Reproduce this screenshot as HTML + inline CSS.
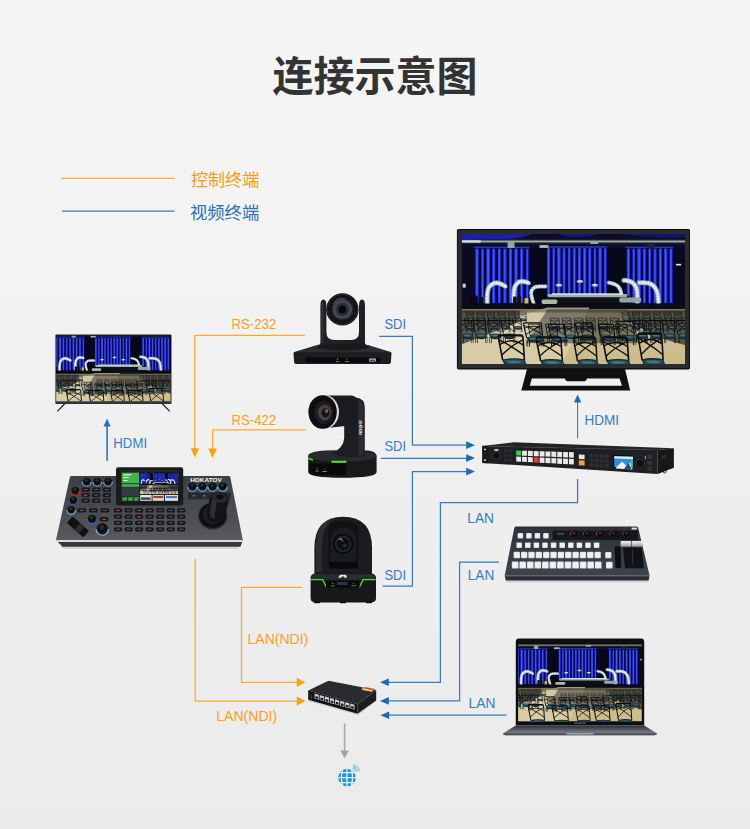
<!DOCTYPE html>
<html lang="zh-CN">
<head>
<meta charset="utf-8">
<title>连接示意图</title>
<style>
html,body{margin:0;padding:0}
body{width:750px;height:829px;overflow:hidden;background:#f0f0f0;font-family:"Liberation Sans",sans-serif}
#stage{position:relative;width:750px;height:829px;background:linear-gradient(180deg,#f5f5f5 0%,#f3f3f3 30%,#eeeeee 65%,#ebebeb 100%)}
svg{position:absolute;left:0;top:0;display:block}
svg text{font-family:"Liberation Sans","Noto Sans CJK SC",sans-serif}
.sr{position:absolute;left:0;top:0;width:1px;height:1px;margin:0;padding:0;overflow:hidden;clip:rect(0 0 0 0);clip-path:inset(50%);white-space:nowrap;opacity:0;font-size:1px}
</style>
</head>
<body>
<div id="stage">
<div class="sr"><h1>连接示意图</h1><p>控制终端</p><p>视频终端</p><p>RS-232</p><p>RS-422</p><p>SDI</p><p>SDI</p><p>SDI</p><p>HDMI</p><p>HDMI</p><p>LAN</p><p>LAN</p><p>LAN</p><p>LAN(NDI)</p><p>LAN(NDI)</p><p>HOKATOV</p></div>
<svg width="750" height="829" viewBox="0 0 750 829">
<defs><linearGradient id="panelg" x1="0" y1="0" x2="0" y2="1"><stop offset="0" stop-color="#2d323a"/><stop offset="1" stop-color="#3d434c"/></linearGradient><linearGradient id="silv" x1="0" y1="0" x2="0" y2="1"><stop offset="0" stop-color="#f4f4f4"/><stop offset=".5" stop-color="#c9c9c9"/><stop offset="1" stop-color="#8f8f8f"/></linearGradient><linearGradient id="lapg" x1="0" y1="0" x2="0" y2="1"><stop offset="0" stop-color="#2c2e38"/><stop offset=".32" stop-color="#4a4c57"/><stop offset=".6" stop-color="#6d6f7a"/><stop offset="1" stop-color="#82848e"/></linearGradient><linearGradient id="ctrlg" x1="0" y1="0" x2="0" y2="1"><stop offset="0" stop-color="#3d3f44"/><stop offset=".55" stop-color="#494b50"/><stop offset="1" stop-color="#585a5f"/></linearGradient><linearGradient id="floorg" x1="0" y1="0" x2="0" y2="1"><stop offset="0" stop-color="#b5a67e"/><stop offset=".4" stop-color="#cfc093"/><stop offset="1" stop-color="#cbbb8a"/></linearGradient><symbol id="chair" viewBox="0 0 30 30" preserveAspectRatio="none"><path d="M5.6 19L1.4 3.2Q1 1.2 3.2 1.2H23.8Q25.8 1.2 26 3.2L27.4 19" stroke="#0b0c0f" stroke-width="1.6" fill="none" stroke-linejoin="round"/><path d="M2 4.4Q14 8.6 27 15.4M25.6 4.4Q14 8.6 4.6 15.4M2.2 8Q14 2.2 25.8 8" stroke="#0b0c0f" stroke-width="1.05" fill="none"/><path d="M5 18.6Q16 16.8 27.6 18.4L30 23Q19 26.6 8 23.4z" fill="#12222b"/><path d="M6.4 19Q16 17.8 27 19L28.8 21.8Q18.4 24.2 8.8 22z" fill="#1f4a58"/><path d="M9.4 19.6Q16 18.8 23.4 19.6L24.8 20.8Q16.6 21.9 11 20.9z" fill="#4f8592" opacity=".7"/><path d="M6.2 22V30M9.4 23.4V30M26.4 23.4V30M29.2 22.6V30" stroke="#0b0c0f" stroke-width="1.3" fill="none"/></symbol><g id="sceneg"><rect width="224" height="131" fill="#07071a"/><rect width="224" height="14" fill="#0b0d2a"/><path d="M0 0h70q-10 5-30 5t-40 1z" fill="#1a24b4" opacity=".9"/><path d="M96 0h40q-6 3-20 3t-20-3z" fill="#141c90" opacity=".8"/><path d="M160 0h64v3q-30 2-64-3z" fill="#111874" opacity=".8"/><rect x="0" y="5.6" width="224" height="3.8" fill="#343d3a"/><rect x="0" y="6.6" width="224" height="1.6" fill="#a3b1aa"/><rect x="0" y="6.2" width="19" height="2.4" fill="#d2dfd4"/><rect x="12" y="12.6" width="56" height="1.6" fill="#2a34c8"/><rect x="84" y="12.2" width="62" height="1.6" fill="#2a34c8"/><rect x="164" y="12.6" width="48" height="1.6" fill="#2a34c8"/><rect x="46" y="8" width="7" height="6" fill="#9aa3a8"/><rect x="78" y="11" width="9" height="3" fill="#aab2b6"/><rect x="129" y="7" width="8" height="3" fill="#9aa3a8"/><rect x="186" y="10" width="7" height="5" fill="#20242c"/><rect x="12.5" y="14.5" width="56.0" height="55.5" fill="#07083a"/><rect x="13.62" y="14.5" width="3.36" height="55.5" fill="#2531ee"/><rect x="14.63" y="15.5" width="1.34" height="53.5" fill="#5a6aff" opacity=".75"/><rect x="19.44" y="14.5" width="2.91" height="55.5" fill="#1e2ad8"/><rect x="20.32" y="15.5" width="1.16" height="53.5" fill="#5a6aff" opacity=".75"/><rect x="24.71" y="14.5" width="3.58" height="55.5" fill="#2b38f6"/><rect x="25.78" y="15.5" width="1.43" height="53.5" fill="#5a6aff" opacity=".75"/><rect x="30.53" y="14.5" width="3.14" height="55.5" fill="#222ee2"/><rect x="31.47" y="15.5" width="1.25" height="53.5" fill="#5a6aff" opacity=".75"/><rect x="36.30" y="14.5" width="2.80" height="55.5" fill="#2531ee"/><rect x="37.14" y="15.5" width="1.12" height="53.5" fill="#5a6aff" opacity=".75"/><rect x="41.62" y="14.5" width="3.36" height="55.5" fill="#1e2ad8"/><rect x="42.63" y="15.5" width="1.34" height="53.5" fill="#5a6aff" opacity=".75"/><rect x="47.44" y="14.5" width="2.91" height="55.5" fill="#2b38f6"/><rect x="48.32" y="15.5" width="1.16" height="53.5" fill="#5a6aff" opacity=".75"/><rect x="52.71" y="14.5" width="3.58" height="55.5" fill="#222ee2"/><rect x="53.78" y="15.5" width="1.43" height="53.5" fill="#5a6aff" opacity=".75"/><rect x="58.53" y="14.5" width="3.14" height="55.5" fill="#2531ee"/><rect x="59.47" y="15.5" width="1.25" height="53.5" fill="#5a6aff" opacity=".75"/><rect x="64.30" y="14.5" width="2.80" height="55.5" fill="#1e2ad8"/><rect x="65.14" y="15.5" width="1.12" height="53.5" fill="#5a6aff" opacity=".75"/><rect x="84.5" y="14" width="62.0" height="50" fill="#07083a"/><rect x="85.53" y="14" width="3.10" height="50" fill="#2531ee"/><rect x="86.46" y="15" width="1.24" height="48" fill="#5a6aff" opacity=".75"/><rect x="90.91" y="14" width="2.69" height="50" fill="#1e2ad8"/><rect x="91.71" y="15" width="1.07" height="48" fill="#5a6aff" opacity=".75"/><rect x="95.76" y="14" width="3.31" height="50" fill="#2b38f6"/><rect x="96.76" y="15" width="1.32" height="48" fill="#5a6aff" opacity=".75"/><rect x="101.14" y="14" width="2.89" height="50" fill="#222ee2"/><rect x="102.00" y="15" width="1.16" height="48" fill="#5a6aff" opacity=".75"/><rect x="106.46" y="14" width="2.58" height="50" fill="#2531ee"/><rect x="107.23" y="15" width="1.03" height="48" fill="#5a6aff" opacity=".75"/><rect x="111.37" y="14" width="3.10" height="50" fill="#1e2ad8"/><rect x="112.30" y="15" width="1.24" height="48" fill="#5a6aff" opacity=".75"/><rect x="116.74" y="14" width="2.69" height="50" fill="#2b38f6"/><rect x="117.55" y="15" width="1.07" height="48" fill="#5a6aff" opacity=".75"/><rect x="121.60" y="14" width="3.31" height="50" fill="#222ee2"/><rect x="122.59" y="15" width="1.32" height="48" fill="#5a6aff" opacity=".75"/><rect x="126.97" y="14" width="2.89" height="50" fill="#2531ee"/><rect x="127.84" y="15" width="1.16" height="48" fill="#5a6aff" opacity=".75"/><rect x="132.29" y="14" width="2.58" height="50" fill="#1e2ad8"/><rect x="133.07" y="15" width="1.03" height="48" fill="#5a6aff" opacity=".75"/><rect x="137.20" y="14" width="3.10" height="50" fill="#2b38f6"/><rect x="138.13" y="15" width="1.24" height="48" fill="#5a6aff" opacity=".75"/><rect x="142.57" y="14" width="2.69" height="50" fill="#222ee2"/><rect x="143.38" y="15" width="1.07" height="48" fill="#5a6aff" opacity=".75"/><rect x="164.5" y="14.5" width="48.0" height="55.5" fill="#07083a"/><rect x="165.57" y="14.5" width="3.20" height="55.5" fill="#2531ee"/><rect x="166.53" y="15.5" width="1.28" height="53.5" fill="#5a6aff" opacity=".75"/><rect x="171.11" y="14.5" width="2.77" height="55.5" fill="#1e2ad8"/><rect x="171.95" y="15.5" width="1.11" height="53.5" fill="#5a6aff" opacity=".75"/><rect x="176.13" y="14.5" width="3.41" height="55.5" fill="#2b38f6"/><rect x="177.15" y="15.5" width="1.37" height="53.5" fill="#5a6aff" opacity=".75"/><rect x="181.67" y="14.5" width="2.99" height="55.5" fill="#222ee2"/><rect x="182.57" y="15.5" width="1.19" height="53.5" fill="#5a6aff" opacity=".75"/><rect x="187.17" y="14.5" width="2.67" height="55.5" fill="#2531ee"/><rect x="187.97" y="15.5" width="1.07" height="53.5" fill="#5a6aff" opacity=".75"/><rect x="192.23" y="14.5" width="3.20" height="55.5" fill="#1e2ad8"/><rect x="193.19" y="15.5" width="1.28" height="53.5" fill="#5a6aff" opacity=".75"/><rect x="197.78" y="14.5" width="2.77" height="55.5" fill="#2b38f6"/><rect x="198.61" y="15.5" width="1.11" height="53.5" fill="#5a6aff" opacity=".75"/><rect x="202.79" y="14.5" width="3.41" height="55.5" fill="#222ee2"/><rect x="203.82" y="15.5" width="1.37" height="53.5" fill="#5a6aff" opacity=".75"/><rect x="208.34" y="14.5" width="2.99" height="55.5" fill="#2531ee"/><rect x="209.24" y="15.5" width="1.19" height="53.5" fill="#5a6aff" opacity=".75"/><rect x="0" y="14" width="12" height="60" fill="#0a0b22"/><rect x="213" y="14" width="11" height="60" fill="#090a1e"/><rect x="215" y="30" width="5" height="1.6" fill="#e8ecf5"/><rect x="1" y="50" width="3" height="4" fill="#c9d2e2"/><ellipse cx="97.5" cy="51.5" rx="3.3" ry="1.7" fill="#8ea6bc"/><ellipse cx="97.5" cy="51.2" rx="2" ry="0.9" fill="#e6eef2"/><ellipse cx="118.5" cy="47.8" rx="3.3" ry="1.7" fill="#8ea6bc"/><ellipse cx="118.5" cy="47.5" rx="2" ry="0.9" fill="#e6eef2"/><ellipse cx="133.5" cy="51.5" rx="3.3" ry="1.7" fill="#8ea6bc"/><ellipse cx="133.5" cy="51.2" rx="2" ry="0.9" fill="#e6eef2"/><path d="M25.6 71Q25 56 28.0 52.8Q31 49.5 34.5 49.2Q38 49 45.0 53.4" stroke="#8ea6b4" stroke-width="5.2" fill="none" stroke-linecap="round" stroke-dasharray="0.1 2.6" opacity=".9"/><path d="M25.6 71Q25 56 28.0 52.8Q31 49.5 34.5 49.2Q38 49 45.0 53.4" stroke="#c3d4de" stroke-width="3.85" fill="none" stroke-linecap="round" stroke-dasharray="0.1 2.4" stroke-dashoffset="1"/><path d="M25.6 71Q25 56 28.0 52.8Q31 49.5 34.5 49.2Q38 49 45.0 53.4" stroke="#f4f8fa" stroke-width="2.18" fill="none" stroke-linecap="round" stroke-dasharray="0.1 2.9"/><path d="M52.4 68Q51.6 56 53.8 52.2Q56 48.4 59.0 47.8Q62 47.2 67.4 49.4" stroke="#8ea6b4" stroke-width="5.2" fill="none" stroke-linecap="round" stroke-dasharray="0.1 2.6" opacity=".9"/><path d="M52.4 68Q51.6 56 53.8 52.2Q56 48.4 59.0 47.8Q62 47.2 67.4 49.4" stroke="#c3d4de" stroke-width="3.85" fill="none" stroke-linecap="round" stroke-dasharray="0.1 2.4" stroke-dashoffset="1"/><path d="M52.4 68Q51.6 56 53.8 52.2Q56 48.4 59.0 47.8Q62 47.2 67.4 49.4" stroke="#f4f8fa" stroke-width="2.18" fill="none" stroke-linecap="round" stroke-dasharray="0.1 2.9"/><path d="M72.6 71Q68.4 60 70.2 56.8Q72 53.6 75.0 53.1Q78 52.6 84.4 52.8" stroke="#8ea6b4" stroke-width="4.4" fill="none" stroke-linecap="round" stroke-dasharray="0.1 2.6" opacity=".9"/><path d="M72.6 71Q68.4 60 70.2 56.8Q72 53.6 75.0 53.1Q78 52.6 84.4 52.8" stroke="#c3d4de" stroke-width="3.26" fill="none" stroke-linecap="round" stroke-dasharray="0.1 2.4" stroke-dashoffset="1"/><path d="M72.6 71Q68.4 60 70.2 56.8Q72 53.6 75.0 53.1Q78 52.6 84.4 52.8" stroke="#f4f8fa" stroke-width="1.85" fill="none" stroke-linecap="round" stroke-dasharray="0.1 2.9"/><path d="M147.5 49Q154 50 156.5 52.5Q159 55 159.7 58.5Q160.4 62 160.0 70.0" stroke="#8ea6b4" stroke-width="4.4" fill="none" stroke-linecap="round" stroke-dasharray="0.1 2.6" opacity=".9"/><path d="M147.5 49Q154 50 156.5 52.5Q159 55 159.7 58.5Q160.4 62 160.0 70.0" stroke="#c3d4de" stroke-width="3.26" fill="none" stroke-linecap="round" stroke-dasharray="0.1 2.4" stroke-dashoffset="1"/><path d="M147.5 49Q154 50 156.5 52.5Q159 55 159.7 58.5Q160.4 62 160.0 70.0" stroke="#f4f8fa" stroke-width="1.85" fill="none" stroke-linecap="round" stroke-dasharray="0.1 2.9"/><path d="M162.6 46.6Q169 47 171.8 49.5Q174.6 52 175.5 56.0Q176.4 60 176.0 70.0" stroke="#8ea6b4" stroke-width="5.2" fill="none" stroke-linecap="round" stroke-dasharray="0.1 2.6" opacity=".9"/><path d="M162.6 46.6Q169 47 171.8 49.5Q174.6 52 175.5 56.0Q176.4 60 176.0 70.0" stroke="#c3d4de" stroke-width="3.85" fill="none" stroke-linecap="round" stroke-dasharray="0.1 2.4" stroke-dashoffset="1"/><path d="M162.6 46.6Q169 47 171.8 49.5Q174.6 52 175.5 56.0Q176.4 60 176.0 70.0" stroke="#f4f8fa" stroke-width="2.18" fill="none" stroke-linecap="round" stroke-dasharray="0.1 2.9"/><path d="M178 49Q186 48.6 189.5 50.3Q193 52 195.0 56.0Q197 60 197.4 71.0" stroke="#8ea6b4" stroke-width="5.2" fill="none" stroke-linecap="round" stroke-dasharray="0.1 2.6" opacity=".9"/><path d="M178 49Q186 48.6 189.5 50.3Q193 52 195.0 56.0Q197 60 197.4 71.0" stroke="#c3d4de" stroke-width="3.85" fill="none" stroke-linecap="round" stroke-dasharray="0.1 2.4" stroke-dashoffset="1"/><path d="M178 49Q186 48.6 189.5 50.3Q193 52 195.0 56.0Q197 60 197.4 71.0" stroke="#f4f8fa" stroke-width="2.18" fill="none" stroke-linecap="round" stroke-dasharray="0.1 2.9"/><rect x="8" y="63" width="3" height="11" rx="1.2" fill="#0a0a0d"/><rect x="13" y="62" width="3.2" height="12" rx="1.2" fill="#0d0d11"/><rect x="18.5" y="63.5" width="3" height="11" rx="1.2" fill="#0a0a0d"/><rect x="51.5" y="63" width="3.6" height="15" rx="1.4" fill="#0b0b0e"/><rect x="55.8" y="62" width="3.6" height="17" rx="1.4" fill="#0d0d10"/><rect x="63" y="64.4" width="3.8" height="8.4" rx="1.2" fill="#e6bc1c"/><rect x="63.8" y="72" width="2.4" height="6" fill="#15151a"/><rect x="84" y="62" width="84" height="13" fill="#0d1016"/><rect x="0" y="70" width="224" height="6" fill="#0b0c14"/><rect x="86" y="60.5" width="80" height="3.2" rx="1.5" fill="#9fb0a8"/><rect x="90" y="59.6" width="72" height="1.6" rx=".8" fill="#e4ece8" opacity=".9"/><rect x="80" y="66" width="16" height="4.5" rx="2" fill="#a9b8b0"/><rect x="158" y="64" width="22" height="5" rx="2" fill="#96a79f"/><rect x="0" y="75.5" width="224" height="55.5" fill="url(#floorg)"/><path d="M0 131L0 100L86 74H128L100 131z" fill="#ddd2b0" opacity=".7"/><path d="M0 75.5H224V79H0z" fill="#2a2c36" opacity=".4"/><path d="M0 77H58V88L27 101L0 111z" fill="#14161b" opacity=".62"/><path d="M166 77H224V112L196 104L168 88z" fill="#14161b" opacity=".62"/><path d="M86 76H166L174 110H64z" fill="#181a20" opacity=".45"/><use href="#chair" x="4.0" y="78.0" width="9.0" height="12.0" opacity="1"/><use href="#chair" x="14.5" y="78.0" width="9.0" height="12.0" opacity="1"/><use href="#chair" x="25.0" y="78.0" width="9.0" height="12.0" opacity="1"/><use href="#chair" x="35.5" y="78.0" width="9.0" height="12.0" opacity="1"/><use href="#chair" x="46.0" y="78.0" width="9.0" height="12.0" opacity="1"/><use href="#chair" x="56.5" y="78.0" width="9.0" height="12.0" opacity="1"/><use href="#chair" x="160.0" y="78.0" width="9.0" height="12.0" opacity="1"/><use href="#chair" x="170.5" y="78.0" width="9.0" height="12.0" opacity="1"/><use href="#chair" x="181.0" y="78.0" width="9.0" height="12.0" opacity="1"/><use href="#chair" x="191.5" y="78.0" width="9.0" height="12.0" opacity="1"/><use href="#chair" x="202.0" y="78.0" width="9.0" height="12.0" opacity="1"/><use href="#chair" x="212.5" y="78.0" width="9.0" height="12.0" opacity="1"/><use href="#chair" x="2.0" y="84.0" width="11.0" height="15.0" opacity="1"/><use href="#chair" x="14.0" y="84.0" width="11.0" height="15.0" opacity="1"/><use href="#chair" x="26.0" y="84.0" width="11.0" height="15.0" opacity="1"/><use href="#chair" x="38.0" y="84.0" width="11.0" height="15.0" opacity="1"/><use href="#chair" x="50.0" y="84.0" width="11.0" height="15.0" opacity="1"/><use href="#chair" x="88.0" y="84.0" width="11.0" height="15.0" opacity="1"/><use href="#chair" x="100.0" y="84.0" width="11.0" height="15.0" opacity="1"/><use href="#chair" x="112.0" y="84.0" width="11.0" height="15.0" opacity="1"/><use href="#chair" x="124.0" y="84.0" width="11.0" height="15.0" opacity="1"/><use href="#chair" x="136.0" y="84.0" width="11.0" height="15.0" opacity="1"/><use href="#chair" x="148.0" y="84.0" width="11.0" height="15.0" opacity="1"/><use href="#chair" x="168.0" y="84.0" width="11.0" height="15.0" opacity="1"/><use href="#chair" x="180.0" y="84.0" width="11.0" height="15.0" opacity="1"/><use href="#chair" x="192.0" y="84.0" width="11.0" height="15.0" opacity="1"/><use href="#chair" x="204.0" y="84.0" width="11.0" height="15.0" opacity="1"/><use href="#chair" x="216.0" y="84.0" width="11.0" height="15.0" opacity="1"/><use href="#chair" x="66.0" y="90.0" width="14.0" height="19.0" opacity="1"/><use href="#chair" x="83.5" y="90.0" width="14.0" height="19.0" opacity="1"/><use href="#chair" x="101.0" y="90.0" width="14.0" height="19.0" opacity="1"/><use href="#chair" x="118.5" y="90.0" width="14.0" height="19.0" opacity="1"/><use href="#chair" x="136.0" y="90.0" width="14.0" height="19.0" opacity="1"/><use href="#chair" x="153.5" y="90.0" width="14.0" height="19.0" opacity="1"/><use href="#chair" x="171.0" y="90.0" width="14.0" height="19.0" opacity="1"/><use href="#chair" x="-3.0" y="86.0" width="15.0" height="24.0" opacity="1"/><use href="#chair" x="11.0" y="86.0" width="15.0" height="24.0" opacity="1"/><use href="#chair" x="25.0" y="86.0" width="15.0" height="24.0" opacity="1"/><use href="#chair" x="39.0" y="86.0" width="15.0" height="24.0" opacity="1"/><use href="#chair" x="172.0" y="86.0" width="15.0" height="24.0" opacity="1"/><use href="#chair" x="186.0" y="86.0" width="15.0" height="24.0" opacity="1"/><use href="#chair" x="200.0" y="86.0" width="15.0" height="24.0" opacity="1"/><use href="#chair" x="214.0" y="86.0" width="15.0" height="24.0" opacity="1"/><use href="#chair" x="61.0" y="88.5" width="22.0" height="25.0" opacity="1"/><use href="#chair" x="86.0" y="90.0" width="20.0" height="23.0" opacity="1"/><use href="#chair" x="113.0" y="88.5" width="21.0" height="23.0" opacity="1"/><use href="#chair" x="136.0" y="90.0" width="19.0" height="22.0" opacity="1"/><use href="#chair" x="154.5" y="87.0" width="20.0" height="25.0" opacity="1"/><use href="#chair" x="35.5" y="100.5" width="30.0" height="42.0" opacity="1"/><use href="#chair" x="73.5" y="102.5" width="30.0" height="40.0" opacity="1"/><use href="#chair" x="111.0" y="102.5" width="27.0" height="40.0" opacity="1"/><use href="#chair" x="140.0" y="102.5" width="30.0" height="40.0" opacity="1"/><use href="#chair" x="175.5" y="98.5" width="29.0" height="45.0" opacity="1"/></g><symbol id="scene" viewBox="0 0 224 131" preserveAspectRatio="none"><use href="#sceneg"/></symbol><symbol id="scene2" viewBox="20 11 193.7 111.4" preserveAspectRatio="none"><use href="#sceneg"/></symbol><symbol id="scene3" viewBox="21 6.4 197 122" preserveAspectRatio="none"><use href="#sceneg"/></symbol></defs>
<text x="375" y="91.2" font-size="41" font-weight="bold" fill="#333333" text-anchor="middle">连接示意图</text>
<path d="M61 178.4H174.5" stroke="#fbaa2c" stroke-width="1.2" fill="none"/>
<path d="M62 211.2H174.5" stroke="#3b7bbd" stroke-width="1.2" fill="none"/>
<text x="191" y="186.3" font-size="17" fill="#f59d12" textLength="68.2" lengthAdjust="spacingAndGlyphs">控制终端</text>
<text x="190" y="218.9" font-size="17.3" fill="#2e6fb0" textLength="69.2" lengthAdjust="spacingAndGlyphs">视频终端</text>
<path d="M304.8 335.3H194.8V449" stroke="#fbaa2c" stroke-width="1.25" fill="none" stroke-linejoin="miter"/>
<polygon points="194.9,457.4 190.70000000000002,448.2 199.1,448.2" fill="#ff9f0e"/>
<path d="M305.9 429.9H212.6V449" stroke="#fbaa2c" stroke-width="1.25" fill="none" stroke-linejoin="miter"/>
<polygon points="212.5,458 208.2,448.4 216.8,448.4" fill="#ff9f0e"/>
<path d="M302.3 587.3H241.5V682.3H298" stroke="#fbaa2c" stroke-width="1.25" fill="none" stroke-linejoin="miter"/>
<polygon points="305.4,682.3 296.79999999999995,677.6999999999999 296.79999999999995,686.9" fill="#ff9f0e"/>
<path d="M195.2 558.8V701.1H298" stroke="#fbaa2c" stroke-width="1.25" fill="none" stroke-linejoin="miter"/>
<polygon points="305.4,701.1 296.79999999999995,696.5 296.79999999999995,705.7" fill="#ff9f0e"/>
<path d="M379.2 336.3H412.4V445.2H468" stroke="#3b7bbd" stroke-width="1.25" fill="none" stroke-linejoin="miter"/>
<polygon points="475,445.2 466.2,441.3 466.2,449.09999999999997" fill="#1f69b3"/>
<path d="M380.8 458.3H468" stroke="#3b7bbd" stroke-width="1.25" fill="none" stroke-linejoin="miter"/>
<polygon points="475,458.1 466.2,454.20000000000005 466.2,462.0" fill="#1f69b3"/>
<path d="M382.6 586.2H412.4V471.6H468" stroke="#3b7bbd" stroke-width="1.25" fill="none" stroke-linejoin="miter"/>
<polygon points="475,471.6 466.2,467.70000000000005 466.2,475.5" fill="#1f69b3"/>
<path d="M107.1 460.8V426" stroke="#2f7dbd" stroke-width="1.7" fill="none" stroke-linejoin="miter"/>
<polygon points="107.1,418.6 103.5,426.40000000000003 110.69999999999999,426.40000000000003" fill="#2574b8"/>
<path d="M577.6 438.6V402" stroke="#3b7bbd" stroke-width="1.1" fill="none" stroke-linejoin="miter"/>
<polygon points="577.6,394.6 573.9,402.40000000000003 581.3000000000001,402.40000000000003" fill="#1f69b3"/>
<path d="M577.6 479V502.7H440.4V682.3H388" stroke="#3b7bbd" stroke-width="1.25" fill="none" stroke-linejoin="miter"/>
<polygon points="380,682.3 388.8,678.5 388.8,686.0999999999999" fill="#1f69b3"/>
<path d="M499 562.1H459.6V700.9H388" stroke="#3b7bbd" stroke-width="1.25" fill="none" stroke-linejoin="miter"/>
<polygon points="380,700.9 388.8,697.1 388.8,704.6999999999999" fill="#1f69b3"/>
<path d="M506.6 715.2H388" stroke="#3b7bbd" stroke-width="1.25" fill="none" stroke-linejoin="miter"/>
<polygon points="380.4,715.2 389.2,711.4000000000001 389.2,719.0" fill="#1f69b3"/>
<path d="M344.6 723.4V751" stroke="#a8a8a8" stroke-width="1.6" fill="none" stroke-linejoin="miter"/>
<polygon points="344.6,758.4 340.40000000000003,750.4 348.8,750.4" fill="#a3a3a3"/>
<text x="231.4" y="328.6" font-size="15" fill="#f9a11b" textLength="44.8" lengthAdjust="spacingAndGlyphs">RS-232</text>
<text x="231.4" y="424.7" font-size="15.5" fill="#f9a11b" textLength="44.8" lengthAdjust="spacingAndGlyphs">RS-422</text>
<text x="384.4" y="329.2" font-size="15.5" fill="#3b7bbd" textLength="21.6" lengthAdjust="spacingAndGlyphs">SDI</text>
<text x="384.4" y="451" font-size="15.5" fill="#3b7bbd" textLength="21.6" lengthAdjust="spacingAndGlyphs">SDI</text>
<text x="384.4" y="580" font-size="15.5" fill="#3b7bbd" textLength="21.6" lengthAdjust="spacingAndGlyphs">SDI</text>
<text x="113.3" y="447.6" font-size="14.2" fill="#3580bf" textLength="33.8" lengthAdjust="spacingAndGlyphs">HDMI</text>
<text x="584.4" y="424.7" font-size="14.2" fill="#3b7bbd" textLength="34.7" lengthAdjust="spacingAndGlyphs">HDMI</text>
<text x="467.3" y="523.3" font-size="15.5" fill="#3b7bbd" textLength="26.7" lengthAdjust="spacingAndGlyphs">LAN</text>
<text x="467.8" y="580.4" font-size="15.5" fill="#3b7bbd" textLength="26.4" lengthAdjust="spacingAndGlyphs">LAN</text>
<text x="468.6" y="708.4" font-size="15.5" fill="#3b7bbd" textLength="26.8" lengthAdjust="spacingAndGlyphs">LAN</text>
<text x="247.5" y="643.6" font-size="15.3" fill="#f9a11b" textLength="60.8" lengthAdjust="spacingAndGlyphs">LAN(NDI)</text>
<text x="216.2" y="720.5" font-size="15.2" fill="#f9a11b" textLength="61" lengthAdjust="spacingAndGlyphs">LAN(NDI)</text>
<g id="monitor">
<path d="M527 369H625L630.2 390.6H521.3z" fill="#101012"/>
<path d="M531.8 378.4H564.6Q565.6 381.2 568.4 381.2H583.6Q586.2 381.2 587.2 378.4H619.6L622 385.8H529.8z" fill="#f0f0f0"/>
<rect x="456.9" y="229" width="233.1" height="140.4" rx="1.6" fill="#0c0c0e"/>
<rect x="457.7" y="229.9" width="231.4" height="138.4" rx="1.2" fill="#2a2b2e"/>
<use href="#scene" x="461.7" y="234.1" width="223.4" height="129.9"/>
</g>
<g id="tv">
<path d="M65 403.5L57.4 411.3M162 403.5L169.8 411.3" stroke="#1c1c1e" stroke-width="1.1" fill="none"/>
<rect x="55.4" y="334.6" width="116.1" height="69.5" rx=".8" fill="#2a2b30"/>
<use href="#scene2" x="56.3" y="335.8" width="114.3" height="65.7"/>
<rect x="56" y="401.5" width="115" height="2.2" fill="#34363c"/>
</g>
<g id="controller">
<path d="M60 546.5H240L237 549H64z" fill="#bdbdbd" opacity=".6"/>
<path d="M56 540H242.8L240.5 546.8H62.5z" fill="#35373b"/>
<path d="M56 539.6H242.8V542H56z" fill="#d9dadc"/>
<path d="M71.6 476H228.6Q230 476 230.3 477.2L242.8 540H56L69.9 477.2Q70.3 476 71.6 476z" fill="url(#ctrlg)"/>
<rect x="188" y="492.6" width="42.5" height="6.6" fill="#27292d"/>
<rect x="192.5" y="495.2" width="2.6" height="1.2" fill="#3f8fe0"/><rect x="203" y="495.2" width="2.6" height="1.2" fill="#3f8fe0"/>
<text x="190.2" y="482.24" font-size="5.5" font-weight="bold" fill="#f4f4f4" textLength="31.6" lengthAdjust="spacingAndGlyphs">HOKATOV</text>
<circle cx="86.7" cy="482.2" r="4.3" fill="#1b1c1f"/><path d="M82.4 481.9A4.3 4.3 0 0 0 91.0 481.9" fill="none" stroke="#7db8f2" stroke-width="1.1"/><circle cx="86.7" cy="481.2" r="3.10" fill="#0c0c0e"/><circle cx="86.3" cy="480.3" r="1.72" fill="#2b2c30"/>
<circle cx="97.3" cy="482.2" r="4.3" fill="#1b1c1f"/><path d="M93.0 481.9A4.3 4.3 0 0 0 101.6 481.9" fill="none" stroke="#7db8f2" stroke-width="1.1"/><circle cx="97.3" cy="481.2" r="3.10" fill="#0c0c0e"/><circle cx="96.89999999999999" cy="480.3" r="1.72" fill="#2b2c30"/>
<circle cx="108" cy="482.2" r="4.3" fill="#1b1c1f"/><path d="M103.7 481.9A4.3 4.3 0 0 0 112.3 481.9" fill="none" stroke="#7db8f2" stroke-width="1.1"/><circle cx="108" cy="481.2" r="3.10" fill="#0c0c0e"/><circle cx="107.6" cy="480.3" r="1.72" fill="#2b2c30"/>
<circle cx="75.3" cy="491.3" r="4.3" fill="#1b1c1f"/><path d="M71.0 491.0A4.3 4.3 0 0 0 79.6 491.0" fill="none" stroke="#e0262c" stroke-width="1.1"/><circle cx="75.3" cy="490.3" r="3.10" fill="#0c0c0e"/><circle cx="74.89999999999999" cy="489.40000000000003" r="1.72" fill="#2b2c30"/>
<circle cx="73.3" cy="500.7" r="4.3" fill="#1b1c1f"/><path d="M69.0 500.4A4.3 4.3 0 0 0 77.6 500.4" fill="none" stroke="#2f62e8" stroke-width="1.1"/><circle cx="73.3" cy="499.7" r="3.10" fill="#0c0c0e"/><circle cx="72.89999999999999" cy="498.8" r="1.72" fill="#2b2c30"/>
<circle cx="71.2" cy="510.4" r="4.3" fill="#1b1c1f"/><path d="M66.9 510.09999999999997A4.3 4.3 0 0 0 75.5 510.09999999999997" fill="none" stroke="#86bdf5" stroke-width="1.1"/><circle cx="71.2" cy="509.4" r="3.10" fill="#0c0c0e"/><circle cx="70.8" cy="508.5" r="1.72" fill="#2b2c30"/>
<circle cx="92" cy="519.3" r="4.6" fill="#1b1c1f"/><path d="M87.4 519.0A4.6 4.6 0 0 0 96.6 519.0" fill="none" stroke="#2f62e8" stroke-width="1.1"/><circle cx="92" cy="518.3" r="3.31" fill="#0c0c0e"/><circle cx="91.6" cy="517.4" r="1.84" fill="#2b2c30"/>
<circle cx="102.3" cy="529.3" r="6.2" fill="#1b1c1f"/><path d="M96.1 529.0A6.2 6.2 0 0 0 108.5 529.0" fill="none" stroke="#86bdf5" stroke-width="1.1"/><circle cx="102.3" cy="528.3" r="4.46" fill="#0c0c0e"/><circle cx="101.89999999999999" cy="527.4" r="2.48" fill="#2b2c30"/>
<circle cx="192.4" cy="487" r="4.6" fill="#1b1c1f"/><path d="M187.8 486.7A4.6 4.6 0 0 0 197.0 486.7" fill="none" stroke="#7db8f2" stroke-width="1.1"/><circle cx="192.4" cy="486.0" r="3.31" fill="#0c0c0e"/><circle cx="192.0" cy="485.1" r="1.84" fill="#2b2c30"/>
<circle cx="202.4" cy="487" r="4.6" fill="#1b1c1f"/><path d="M197.8 486.7A4.6 4.6 0 0 0 207.0 486.7" fill="none" stroke="#7db8f2" stroke-width="1.1"/><circle cx="202.4" cy="486.0" r="3.31" fill="#0c0c0e"/><circle cx="202.0" cy="485.1" r="1.84" fill="#2b2c30"/>
<circle cx="212.5" cy="487" r="4.6" fill="#1b1c1f"/><path d="M207.9 486.7A4.6 4.6 0 0 0 217.1 486.7" fill="none" stroke="#7db8f2" stroke-width="1.1"/><circle cx="212.5" cy="486.0" r="3.31" fill="#0c0c0e"/><circle cx="212.1" cy="485.1" r="1.84" fill="#2b2c30"/>
<circle cx="222.7" cy="487" r="4.6" fill="#1b1c1f"/><path d="M218.1 486.7A4.6 4.6 0 0 0 227.29999999999998 486.7" fill="none" stroke="#7db8f2" stroke-width="1.1"/><circle cx="222.7" cy="486.0" r="3.31" fill="#0c0c0e"/><circle cx="222.29999999999998" cy="485.1" r="1.84" fill="#2b2c30"/>
<rect x="81.60" y="487.50" width="8.2" height="4.2" rx="1.6" fill="#17181b"/><rect x="83.70" y="489.10" width="4" height="1" fill="#9a9da3" opacity=".55"/>
<rect x="92.10" y="487.50" width="8.2" height="4.2" rx="1.6" fill="#17181b"/><rect x="94.20" y="489.10" width="4" height="1" fill="#9a9da3" opacity=".55"/>
<rect x="102.70" y="487.50" width="8.2" height="4.2" rx="1.6" fill="#17181b"/><rect x="104.80" y="489.10" width="4" height="1" fill="#9a9da3" opacity=".55"/>
<rect x="81.60" y="493.00" width="8.2" height="4.2" rx="1.6" fill="#17181b"/><rect x="83.70" y="494.60" width="4" height="1" fill="#9a9da3" opacity=".55"/>
<rect x="92.10" y="493.00" width="8.2" height="4.2" rx="1.6" fill="#17181b"/><rect x="94.20" y="494.60" width="4" height="1" fill="#9a9da3" opacity=".55"/>
<rect x="102.70" y="493.00" width="8.2" height="4.2" rx="1.6" fill="#17181b"/><rect x="104.80" y="494.60" width="4" height="1" fill="#9a9da3" opacity=".55"/>
<rect x="81.60" y="498.60" width="8.2" height="4.2" rx="1.6" fill="#17181b"/><rect x="83.70" y="500.20" width="4" height="1" fill="#9a9da3" opacity=".55"/>
<rect x="92.10" y="498.60" width="8.2" height="4.2" rx="1.6" fill="#17181b"/><rect x="94.20" y="500.20" width="4" height="1" fill="#9a9da3" opacity=".55"/>
<rect x="102.70" y="498.60" width="8.2" height="4.2" rx="1.6" fill="#17181b"/><rect x="104.80" y="500.20" width="4" height="1" fill="#9a9da3" opacity=".55"/>
<path d="M83.4 496.3L84.9 493.8L86.4 496.3z" fill="#e0262c"/><rect x="84" y="489" width="3.4" height="1" fill="#e0262c"/>
<rect x="77.50" y="508.20" width="8.6" height="4.4" rx="1.6" fill="#17181b"/><rect x="79.80" y="509.90" width="4" height="1" fill="#9a9da3" opacity=".55"/>
<rect x="89.10" y="508.20" width="8.6" height="4.4" rx="1.6" fill="#17181b"/><rect x="91.40" y="509.90" width="4" height="1" fill="#9a9da3" opacity=".55"/>
<rect x="100.50" y="508.20" width="8.6" height="4.4" rx="1.6" fill="#17181b"/><rect x="102.80" y="509.90" width="4" height="1" fill="#9a9da3" opacity=".55"/>
<rect x="99.80" y="517.10" width="8.4" height="4.4" rx="1.6" fill="#17181b"/><rect x="102.00" y="518.80" width="4" height="1" fill="#9a9da3" opacity=".55"/>
<rect x="102.2" y="518.8" width="3.6" height="1" fill="#e0262c"/>
<rect x="113.90" y="508.25" width="8.2" height="4.3" rx="1.6" fill="#17181b"/><rect x="116.00" y="509.90" width="4" height="1" fill="#9a9da3" opacity=".55"/>
<rect x="124.45" y="508.25" width="8.2" height="4.3" rx="1.6" fill="#17181b"/><rect x="126.55" y="509.90" width="4" height="1" fill="#9a9da3" opacity=".55"/>
<rect x="135.00" y="508.25" width="8.2" height="4.3" rx="1.6" fill="#17181b"/><rect x="137.10" y="509.90" width="4" height="1" fill="#9a9da3" opacity=".55"/>
<rect x="145.55" y="508.25" width="8.2" height="4.3" rx="1.6" fill="#17181b"/><rect x="147.65" y="509.90" width="4" height="1" fill="#9a9da3" opacity=".55"/>
<rect x="156.10" y="508.25" width="8.2" height="4.3" rx="1.6" fill="#17181b"/><rect x="158.20" y="509.90" width="4" height="1" fill="#9a9da3" opacity=".55"/>
<rect x="166.65" y="508.25" width="8.2" height="4.3" rx="1.6" fill="#17181b"/><rect x="168.75" y="509.90" width="4" height="1" fill="#9a9da3" opacity=".55"/>
<rect x="177.20" y="508.25" width="8.2" height="4.3" rx="1.6" fill="#17181b"/><rect x="179.30" y="509.90" width="4" height="1" fill="#9a9da3" opacity=".55"/>
<rect x="113.90" y="514.55" width="8.2" height="4.3" rx="1.6" fill="#17181b"/><rect x="116.00" y="516.20" width="4" height="1" fill="#9a9da3" opacity=".55"/>
<rect x="124.45" y="514.55" width="8.2" height="4.3" rx="1.6" fill="#17181b"/><rect x="126.55" y="516.20" width="4" height="1" fill="#9a9da3" opacity=".55"/>
<rect x="135.00" y="514.55" width="8.2" height="4.3" rx="1.6" fill="#17181b"/><rect x="137.10" y="516.20" width="4" height="1" fill="#9a9da3" opacity=".55"/>
<rect x="145.55" y="514.55" width="8.2" height="4.3" rx="1.6" fill="#17181b"/><rect x="147.65" y="516.20" width="4" height="1" fill="#9a9da3" opacity=".55"/>
<rect x="156.10" y="514.55" width="8.2" height="4.3" rx="1.6" fill="#17181b"/><rect x="158.20" y="516.20" width="4" height="1" fill="#9a9da3" opacity=".55"/>
<rect x="166.65" y="514.55" width="8.2" height="4.3" rx="1.6" fill="#17181b"/><rect x="168.75" y="516.20" width="4" height="1" fill="#9a9da3" opacity=".55"/>
<rect x="177.20" y="514.55" width="8.2" height="4.3" rx="1.6" fill="#17181b"/><rect x="179.30" y="516.20" width="4" height="1" fill="#9a9da3" opacity=".55"/>
<rect x="113.90" y="520.65" width="8.2" height="4.3" rx="1.6" fill="#17181b"/><rect x="116.00" y="522.30" width="4" height="1" fill="#9a9da3" opacity=".55"/>
<rect x="124.45" y="520.65" width="8.2" height="4.3" rx="1.6" fill="#17181b"/><rect x="126.55" y="522.30" width="4" height="1" fill="#9a9da3" opacity=".55"/>
<rect x="135.00" y="520.65" width="8.2" height="4.3" rx="1.6" fill="#17181b"/><rect x="137.10" y="522.30" width="4" height="1" fill="#9a9da3" opacity=".55"/>
<rect x="145.55" y="520.65" width="8.2" height="4.3" rx="1.6" fill="#17181b"/><rect x="147.65" y="522.30" width="4" height="1" fill="#9a9da3" opacity=".55"/>
<rect x="156.10" y="520.65" width="8.2" height="4.3" rx="1.6" fill="#17181b"/><rect x="158.20" y="522.30" width="4" height="1" fill="#9a9da3" opacity=".55"/>
<rect x="166.65" y="520.65" width="8.2" height="4.3" rx="1.6" fill="#17181b"/><rect x="168.75" y="522.30" width="4" height="1" fill="#9a9da3" opacity=".55"/>
<rect x="177.20" y="520.65" width="8.2" height="4.3" rx="1.6" fill="#17181b"/><rect x="179.30" y="522.30" width="4" height="1" fill="#9a9da3" opacity=".55"/>
<rect x="113.90" y="527.15" width="8.2" height="4.3" rx="1.6" fill="#17181b"/><rect x="116.00" y="528.80" width="4" height="1" fill="#9a9da3" opacity=".55"/>
<rect x="124.45" y="527.15" width="8.2" height="4.3" rx="1.6" fill="#17181b"/><rect x="126.55" y="528.80" width="4" height="1" fill="#9a9da3" opacity=".55"/>
<rect x="135.00" y="527.15" width="8.2" height="4.3" rx="1.6" fill="#17181b"/><rect x="137.10" y="528.80" width="4" height="1" fill="#9a9da3" opacity=".55"/>
<rect x="145.55" y="527.15" width="8.2" height="4.3" rx="1.6" fill="#17181b"/><rect x="147.65" y="528.80" width="4" height="1" fill="#9a9da3" opacity=".55"/>
<rect x="156.10" y="527.15" width="8.2" height="4.3" rx="1.6" fill="#17181b"/><rect x="158.20" y="528.80" width="4" height="1" fill="#9a9da3" opacity=".55"/>
<rect x="166.65" y="527.15" width="8.2" height="4.3" rx="1.6" fill="#17181b"/><rect x="168.75" y="528.80" width="4" height="1" fill="#9a9da3" opacity=".55"/>
<rect x="177.20" y="527.15" width="8.2" height="4.3" rx="1.6" fill="#17181b"/><rect x="179.30" y="528.80" width="4" height="1" fill="#9a9da3" opacity=".55"/>
<rect x="116.2" y="509.9" width="3.6" height="1" fill="#e0262c"/><rect x="137.4" y="516.2" width="3.4" height="1" fill="#e0262c"/>
<g transform="rotate(42 78 526.8)"><rect x="67" y="522.6" width="22" height="8.6" rx="1" fill="#101113"/><rect x="77" y="523" width="6" height="7.8" fill="#2b2d31"/></g>
<ellipse cx="212.8" cy="516" rx="14.7" ry="13.5" fill="#2b2c30"/>
<ellipse cx="212.8" cy="515.5" rx="13.5" ry="12.4" fill="#0f0f11"/>
<ellipse cx="213.6" cy="514.4" rx="10.8" ry="9.8" fill="#1e1f22"/>
<path d="M206.8 514L209.2 499.4Q212 491.2 220.6 492Q229.2 493.6 228.6 501.2L224.8 517Q220.4 524 213 522.4Q206.2 520 206.8 514z" fill="#141416"/>
<path d="M209.6 513L212 500Q214 495.6 217.6 495L214.4 519Q210 518 209.6 513z" fill="#303236" opacity=".9"/>
<ellipse cx="219.6" cy="497.6" rx="8.2" ry="5.2" transform="rotate(10 219.6 497.6)" fill="#26272b"/>
<ellipse cx="220" cy="496.8" rx="3.6" ry="2.3" transform="rotate(10 220 496.8)" fill="#0b0b0d"/>
<rect x="116" y="467.2" width="67.2" height="38.2" rx="2.2" fill="#1a1b1d"/>
<rect x="121.2" y="470.2" width="57.4" height="31.2" fill="#23262c"/>
<rect x="121.8" y="472.7" width="17.2" height="10.6" fill="#46b24e"/>
<rect x="123.3" y="474.3" width="8.4" height="1.1" fill="#e9f6ea"/><rect x="123.3" y="477.1" width="5.6" height="1" fill="#d5efd7"/><rect x="123.3" y="480" width="4.2" height="1" fill="#d5efd7"/>
<rect x="121.8" y="484.2" width="17.2" height="2.6" fill="#46b24e"/>
<rect x="121.8" y="487.4" width="17.2" height="8.6" fill="#353a44"/>
<rect x="122.2" y="496.8" width="5" height="4.1" fill="#2f7a38"/><path d="M123.0 498.4L124.5 500.2L126.6 497.4" stroke="#5fe06a" stroke-width=".8" fill="none"/>
<rect x="127.9" y="496.8" width="5" height="4.1" fill="#2f7a38"/><path d="M128.7 498.4L130.2 500.2L132.3 497.4" stroke="#5fe06a" stroke-width=".8" fill="none"/>
<rect x="133.6" y="496.8" width="5" height="4.1" fill="#2f7a38"/><path d="M134.4 498.4L135.9 500.2L138.0 497.4" stroke="#5fe06a" stroke-width=".8" fill="none"/>
<use href="#scene2" x="140.2" y="472.7" width="37.8" height="21.2"/>
<rect x="140.2" y="495" width="11.4" height="5.8" fill="#e8e4dc"/><rect x="152.6" y="495" width="11.4" height="5.8" fill="#d9d3c8"/><rect x="165" y="495" width="13" height="5.8" fill="#dfe3ea"/>
<rect x="141" y="497.4" width="9.6" height="2.4" fill="#3a3f52"/><rect x="153.4" y="496" width="9.8" height="2" fill="#8f3f3f"/><rect x="166" y="496" width="11" height="2.2" fill="#5873b0"/>
</g>
<g id="cam1">
<path d="M318.5 344.8H366.5L391 352.2Q391.6 352.6 391.5 353.6L390.8 362.6Q390.6 364 389 364H296Q294.4 364 294.2 362.6L293.5 353.6Q293.4 352.6 294 352.2z" fill="#1c1d20"/>
<path d="M318.5 344.8H366.5L391 352.2H294z" fill="#2c2d31"/>
<rect x="305.5" y="357.6" width="75" height="5.2" rx="1.2" fill="#0b0b0d"/>
<circle cx="337.6" cy="359" r=".7" fill="#2fd24a"/><circle cx="347" cy="359" r=".7" fill="#e53030"/>
<rect x="336" y="361" width="3.4" height=".8" fill="#bbb" opacity=".7"/><rect x="345" y="361" width="4.2" height=".8" fill="#bbb" opacity=".7"/>
<rect x="369.2" y="358.6" width="6.6" height="2.8" rx=".5" fill="#d8d8d8"/><rect x="370" y="359.6" width="5" height="1.2" fill="#222"/>
<path d="M320.4 343V306Q320.4 299.6 323.4 299.6Q326.4 299.6 326.4 306V332Q326.4 340 334.4 340H351Q359 340 359 332V306Q359 299.6 362 299.6Q365 299.6 365 306V343Q366 347 369 348.6H316.4Q319.6 347 320.4 343z" fill="#1f2023"/>
<path d="M321.4 343V307Q321.4 301.4 323.4 301.2V343z" fill="#3a3b3f" opacity=".7"/>
<ellipse cx="342.6" cy="347" rx="25" ry="3.2" fill="#18191b"/>
<circle cx="342.4" cy="309.4" r="16.2" fill="#141416"/>
<circle cx="342.4" cy="309.4" r="15.2" fill="none" stroke="#2e2f33" stroke-width=".8"/>
<circle cx="342.4" cy="309.4" r="11.2" fill="#22242a"/>
<circle cx="342.4" cy="309.4" r="9.6" fill="#444958"/>
<circle cx="342.4" cy="309.4" r="6.8" fill="#2b2f3c"/>
<circle cx="342.4" cy="309.4" r="3.9" fill="#07070a"/>
<path d="M333.5 303.5A10.6 10.6 0 0 1 345 299" stroke="#6d7488" stroke-width="1" fill="none" opacity=".8"/>
</g>
<g id="cam2">
<path d="M308.2 456.5Q308.2 451.4 326 450.6H368Q376.6 451.6 376.6 456.5V472Q376.6 477.6 342.4 477.8Q308.2 477.6 308.2 472z" fill="#18191b"/>
<ellipse cx="342.4" cy="456" rx="34.2" ry="5.6" fill="#2a2b2e"/>
<path d="M309.4 466.2Q309.4 463.6 312 463.6H343Q346.4 463.6 346.4 466.6V472.4Q346.4 475 343 475H316Q309.4 474 309.4 470z" fill="#0a0a0c"/>
<rect x="331.2" y="460.8" width="15.4" height="1.9" rx=".9" fill="#5fe035"/>
<path d="M308.4 457.6L313 459.2V460.8L308.4 459.3z" fill="#5fe035"/>
<circle cx="317" cy="468.4" r=".6" fill="#2fd24a"/><circle cx="324.6" cy="468.8" r=".6" fill="#e53030"/>
<rect x="315.4" y="470.6" width="3.2" height=".8" fill="#ccc" opacity=".8"/><rect x="322.4" y="471" width="4.4" height=".8" fill="#ccc" opacity=".8"/>
<path d="M331 453.4Q343.6 449 344.2 438V430Q345 420 340 414L346 397.6H356Q364.8 398.4 364.8 408V455.5Q350 459.6 331 453.4z" fill="#1d1e21"/>
<path d="M356.5 399Q363.4 400 363.6 408V454.6Q361 455.6 358.2 455.8V410Q358.4 402 356.5 399z" fill="#2f3034" opacity=".8"/>
<path d="M322.4 395.4H352Q358 396.4 358 404V418Q358 424 350 425.6L322.4 428.6z" fill="#1b1c1f"/>
<ellipse cx="324.6" cy="412" rx="14.4" ry="17" fill="#d9dadd"/>
<ellipse cx="322.6" cy="412" rx="14.2" ry="16.8" fill="#0e0e10"/>
<ellipse cx="323.6" cy="412.4" rx="9.6" ry="11.4" fill="#1c1d22"/>
<ellipse cx="324.6" cy="412.6" rx="6.6" ry="7.8" fill="#4a4043"/>
<ellipse cx="325.6" cy="412.8" rx="3.9" ry="4.6" fill="#191316"/>
<ellipse cx="326.6" cy="411" rx="1.6" ry="2" fill="#8d7a78" opacity=".8"/>
<g transform="translate(362 434.8) rotate(-90)"><text x="0" y="-0.49" font-size="3.8" font-weight="bold" fill="#f2f2f2" textLength="14.6" lengthAdjust="spacingAndGlyphs">NDI|HX</text></g>
</g>
<g id="cam3">
<path d="M314.4 574V548Q314.4 517 343.2 516.8Q372 517 372 548V574z" fill="#1b1c1f"/>
<path d="M316 572V548Q316 520 336 518Q322 524 321.6 548V572z" fill="#35363a" opacity=".7"/>
<path d="M328.4 567V530Q329 521 343.2 520.6Q357.6 521 358.4 530V567z" fill="#121214"/>
<path d="M330.5 540Q330.5 528 343.2 527.6Q356.4 528 356.4 540V562H330.5z" fill="#1a1b1e"/>
<rect x="329.6" y="562" width="27.8" height="6.6" fill="#09090b"/>
<circle cx="343.2" cy="544" r="10.2" fill="#0a0a0c"/>
<circle cx="343.2" cy="544" r="8.4" fill="#202229"/>
<circle cx="343.2" cy="544" r="6" fill="#0d0e14"/>
<path d="M338.6 539.6L341 538.4L342.8 541.4" stroke="#b9a8e8" stroke-width="1" fill="none" opacity=".9"/>
<circle cx="344.6" cy="545.4" r="2" fill="#24283a"/>
<path d="M310.6 577.6Q310.6 573.6 316 573.4H370.6Q376 573.6 376 577.6V598.4Q376 602.4 370 602.4H316.6Q310.6 602.4 310.6 598.4z" fill="#17181a"/>
<path d="M311 578Q311 574.4 316 574.2H370.6Q375.6 574.4 375.6 578V580H311z" fill="#2b2c30"/>
<path d="M311 579.6H322.6L326.6 587.4M375.6 579.6H363.2L359.2 587.4" stroke="#39e24a" stroke-width="1.3" fill="none" stroke-linejoin="round"/>
<rect x="326" y="580.8" width="33.6" height="7" rx="1" fill="#0b0b0d"/>
<rect x="337" y="582" width="10.6" height="3" fill="#2b3a55" opacity=".9"/>
<circle cx="332.6" cy="583.4" r=".6" fill="#2fd24a"/><circle cx="353.6" cy="583.4" r=".6" fill="#e53030"/>
<rect x="331" y="585.4" width="3.6" height=".8" fill="#bbb" opacity=".7"/><rect x="351.6" y="585.4" width="4.4" height=".8" fill="#bbb" opacity=".7"/>
<path d="M338.2 577.8L340 574.8H346L347 577.8H344.6L344 576.4H342L341 577.8z" fill="#e8e8e8"/>
<rect x="314" y="602" width="6" height="1.2" fill="#0c0c0e"/><rect x="340" y="602" width="6" height="1.2" fill="#0c0c0e"/><rect x="366" y="602" width="6" height="1.2" fill="#0c0c0e"/>
</g>
<g id="switcher">
<path d="M482.3 446.1L514 442.3L673.9 448.2L657.7 450z" fill="#232427"/>
<path d="M657.7 450L673.9 448.2V467.8L657.7 474z" fill="#17181a"/>
<path d="M661.5 455.6L666 454.9V458.3L661.5 459.2z" fill="#2c2d31"/><circle cx="664.6" cy="471.4" r="1.5" fill="none" stroke="#141416" stroke-width=".9"/>
<path d="M482.30 446.10L657.70 450.00L657.70 474.00L482.30 462.90z" fill="#1f2023" />
<path d="M482.3 446.1L657.7 450" stroke="#3a3b3f" stroke-width=".6"/>
<path d="M482.30 446.10L488.30 446.23L488.30 463.28L482.30 462.90z" fill="#18191b" />
<circle cx="485" cy="449.4" r=".9" fill="#e8e8e8"/><circle cx="485" cy="460" r=".9" fill="#e8e8e8"/>
<circle cx="496.4" cy="455.4" r="4.1" fill="#303135"/><circle cx="496.4" cy="455.4" r="3" fill="#0d0d0f"/>
<rect x="494.4" y="449.2" width="4" height="1.6" fill="#e6e6e6"/>
<path d="M504.20 448.98L507.60 449.07L507.60 452.10L504.20 451.99z" fill="#2b2c31" />
<path d="M504.20 453.58L507.60 453.71L507.60 456.74L504.20 456.59z" fill="#2b2c31" />
<path d="M504.20 458.18L507.60 458.35L507.60 461.38L504.20 461.19z" fill="#2b2c31" />
<path d="M508.80 449.10L512.20 449.20L512.20 452.26L508.80 452.15z" fill="#2b2c31" />
<path d="M508.80 453.75L512.20 453.89L512.20 456.95L508.80 456.80z" fill="#2b2c31" />
<path d="M508.80 458.41L512.20 458.57L512.20 461.64L508.80 461.45z" fill="#2b2c31" />
<path d="M516.20 450.49L521.06 450.64L521.06 455.61L516.20 455.40z" fill="#35d24a" />
<path d="M516.20 456.50L521.06 456.71L521.06 461.67L516.20 461.41z" fill="#e9e9e6" />
<path d="M522.06 450.67L526.92 450.82L526.92 455.85L522.06 455.65z" fill="#e9e9e6" />
<path d="M522.06 456.75L526.92 456.97L526.92 462.00L522.06 461.73z" fill="#e9e9e6" />
<path d="M527.92 450.85L532.78 451.00L532.78 456.09L527.92 455.89z" fill="#e9e9e6" />
<path d="M527.92 457.01L532.78 457.22L532.78 462.32L527.92 462.05z" fill="#e9e9e6" />
<path d="M533.78 451.03L538.64 451.18L538.64 456.34L533.78 456.13z" fill="#e9e9e6" />
<path d="M533.78 457.27L538.64 457.48L538.64 462.64L533.78 462.38z" fill="#ee3a35" />
<path d="M539.64 451.21L544.50 451.35L544.50 456.58L539.64 456.38z" fill="#e9e9e6" />
<path d="M539.64 457.53L544.50 457.74L544.50 462.97L539.64 462.70z" fill="#e9e9e6" />
<path d="M545.50 451.38L550.36 451.53L550.36 456.82L545.50 456.62z" fill="#e9e9e6" />
<path d="M545.50 457.78L550.36 458.00L550.36 463.29L545.50 463.02z" fill="#e9e9e6" />
<path d="M551.36 451.56L556.22 451.71L556.22 457.07L551.36 456.86z" fill="#e9e9e6" />
<path d="M551.36 458.04L556.22 458.26L556.22 463.61L551.36 463.34z" fill="#e9e9e6" />
<path d="M557.22 451.74L562.08 451.89L562.08 457.31L557.22 457.11z" fill="#e9e9e6" />
<path d="M557.22 458.30L562.08 458.51L562.08 463.93L557.22 463.67z" fill="#e9e9e6" />
<path d="M563.08 451.92L567.94 452.07L567.94 457.55L563.08 457.35z" fill="#e9e9e6" />
<path d="M563.08 458.56L567.94 458.77L567.94 464.26L563.08 463.99z" fill="#e9e9e6" />
<path d="M568.94 452.10L573.80 452.25L573.80 457.80L568.94 457.59z" fill="#e9e9e6" />
<path d="M568.94 458.82L573.80 459.03L573.80 464.58L568.94 464.31z" fill="#e9e9e6" />
<path d="M578.80 454.47L584.60 454.67L584.60 459.29L578.80 459.04z" fill="#ece6d8" />
<path d="M578.80 460.29L584.60 460.55L584.60 465.59L578.80 465.27z" fill="#f2a03a" />
<path d="M589.60 454.00L593.50 454.13L593.50 457.55L589.60 457.39z" fill="#2d2e33" />
<path d="M589.60 458.66L593.50 458.83L593.50 462.25L589.60 462.06z" fill="#2d2e33" />
<path d="M589.60 463.33L593.50 463.53L593.50 466.95L589.60 466.72z" fill="#2d2e33" />
<path d="M594.70 454.17L598.60 454.30L598.60 457.75L594.70 457.59z" fill="#2d2e33" />
<path d="M594.70 458.88L598.60 459.04L598.60 462.49L594.70 462.30z" fill="#2d2e33" />
<path d="M594.70 463.59L598.60 463.79L598.60 467.24L594.70 467.02z" fill="#2d2e33" />
<path d="M599.80 454.33L603.70 454.46L603.70 457.95L599.80 457.79z" fill="#2d2e33" />
<path d="M599.80 459.09L603.70 459.26L603.70 462.74L599.80 462.55z" fill="#2d2e33" />
<path d="M599.80 463.85L603.70 464.05L603.70 467.53L599.80 467.31z" fill="#2d2e33" />
<path d="M604.90 454.50L608.80 454.63L608.80 458.15L604.90 458.00z" fill="#2d2e33" />
<path d="M604.90 459.31L608.80 459.47L608.80 462.99L604.90 462.80z" fill="#2d2e33" />
<path d="M604.90 464.11L608.80 464.31L608.80 467.83L604.90 467.60z" fill="#2d2e33" />
<path d="M613.20 455.00L634.00 455.69L634.00 469.28L613.20 468.08z" fill="#0a0a0c" />
<path d="M614.20 456.14L633.00 456.81L633.00 468.30L614.20 467.25z" fill="#2d8fd6" />
<path d="M614.20 456.14L633.00 456.81L633.00 459.33L614.20 458.58z" fill="#d9e9f4" />
<path d="M616 467.6L622 461.6L626 465.4L630 462.4L632.6 469.4L616 468.6z" fill="#eef4f8"/>
<path d="M624 468.8L628.6 462.8L631.6 469.3z" fill="#1d4f86"/>
<path d="M631.00 459.71L632.60 459.78L632.60 467.82L631.00 467.73z" fill="#3ecf4a" />
<circle cx="640.2" cy="463.6" r="4.5" fill="#303135"/><circle cx="640.2" cy="463.6" r="3.5" fill="#0f0f11"/>
<path d="M647.40 454.84L652.00 454.98L652.00 459.02L647.40 458.85z" fill="#34353a" />
<path d="M647.40 460.73L652.00 460.92L652.00 464.96L647.40 464.74z" fill="#34353a" />
<path d="M647.40 466.63L652.00 466.87L652.00 470.91L647.40 470.64z" fill="#34353a" />
<rect x="644.8" y="456.2" width="1" height="3" fill="#e9a23a"/>
</g>
<g id="panel">
<path d="M506 580.6H649L648 582.4H507z" fill="#c4c4c4" opacity=".7"/>
<path d="M504.7 575.4H649.6L648.6 580.6H505.8z" fill="#2a2d33"/>
<path d="M504.7 575H649.6V576.2H504.7z" fill="#8a8d92"/>
<path d="M516 526.6H636.4Q638 526.7 638.2 528L649.6 575.4H504.7L514.3 528Q514.6 526.7 516 526.6z" fill="url(#panelg)"/>
<rect x="552.6" y="530.6" width="85.4" height="9.4" rx=".8" fill="#15171b"/>
<rect x="557" y="533.2" width="7" height="1.2" fill="#59606a"/>
<path d="M570.6 535.2A3.6 3.6 0 0 1 573 530.6" stroke="#d83a34" stroke-width=".9" fill="none"/>
<circle cx="574" cy="533.6" r="3.1" fill="#0b0b0d"/><circle cx="574" cy="533" r="1.7" fill="#2c2d31"/>
<path d="M583.9 535.2A3.6 3.6 0 0 1 586.3 530.6" stroke="#d83a34" stroke-width=".9" fill="none"/>
<circle cx="587.3" cy="533.6" r="3.1" fill="#0b0b0d"/><circle cx="587.3" cy="533" r="1.7" fill="#2c2d31"/>
<path d="M596.8000000000001 535.2A3.6 3.6 0 0 1 599.2 530.6" stroke="#d83a34" stroke-width=".9" fill="none"/>
<circle cx="600.2" cy="533.6" r="3.1" fill="#0b0b0d"/><circle cx="600.2" cy="533" r="1.7" fill="#2c2d31"/>
<path d="M610.1 535.2A3.6 3.6 0 0 1 612.5 530.6" stroke="#d83a34" stroke-width=".9" fill="none"/>
<circle cx="613.5" cy="533.6" r="3.1" fill="#0b0b0d"/><circle cx="613.5" cy="533" r="1.7" fill="#2c2d31"/>
<path d="M623.2 535.2A3.6 3.6 0 0 1 625.6 530.6" stroke="#d83a34" stroke-width=".9" fill="none"/>
<circle cx="626.6" cy="533.6" r="3.1" fill="#0b0b0d"/><circle cx="626.6" cy="533" r="1.7" fill="#2c2d31"/>
<rect x="631.6" y="527.6" width="5.2" height="2" fill="#dcdcdc"/>
<rect x="517.60" y="533.00" width="5.6" height="5.4" rx=".9" fill="#d9dadd"/><rect x="518.30" y="533.70" width="4.20" height="3.80" rx=".6" fill="#f1f1f3"/>
<rect x="526.10" y="533.00" width="5.6" height="5.4" rx=".9" fill="#d9dadd"/><rect x="526.80" y="533.70" width="4.20" height="3.80" rx=".6" fill="#f1f1f3"/>
<rect x="534.60" y="533.00" width="5.6" height="5.4" rx=".9" fill="#d9dadd"/><rect x="535.30" y="533.70" width="4.20" height="3.80" rx=".6" fill="#f1f1f3"/>
<rect x="543.10" y="533.00" width="5.6" height="5.4" rx=".9" fill="#d9dadd"/><rect x="543.80" y="533.70" width="4.20" height="3.80" rx=".6" fill="#f1f1f3"/>
<rect x="516.40" y="542.40" width="5.6" height="5.6" rx=".9" fill="#d9dadd"/><rect x="517.10" y="543.10" width="4.20" height="4.00" rx=".6" fill="#f1f1f3"/>
<rect x="525.00" y="542.40" width="5.6" height="5.6" rx=".9" fill="#d9dadd"/><rect x="525.70" y="543.10" width="4.20" height="4.00" rx=".6" fill="#f1f1f3"/>
<rect x="533.60" y="542.40" width="5.6" height="5.6" rx=".9" fill="#d9dadd"/><rect x="534.30" y="543.10" width="4.20" height="4.00" rx=".6" fill="#f1f1f3"/>
<rect x="542.20" y="542.40" width="5.6" height="5.6" rx=".9" fill="#d9dadd"/><rect x="542.90" y="543.10" width="4.20" height="4.00" rx=".6" fill="#f1f1f3"/>
<rect x="550.80" y="542.40" width="5.6" height="5.6" rx=".9" fill="#d9dadd"/><rect x="551.50" y="543.10" width="4.20" height="4.00" rx=".6" fill="#f1f1f3"/>
<rect x="559.40" y="542.40" width="5.6" height="5.6" rx=".9" fill="#d9dadd"/><rect x="560.10" y="543.10" width="4.20" height="4.00" rx=".6" fill="#f1f1f3"/>
<rect x="568.00" y="542.40" width="5.6" height="5.6" rx=".9" fill="#d9dadd"/><rect x="568.70" y="543.10" width="4.20" height="4.00" rx=".6" fill="#f1f1f3"/>
<rect x="576.60" y="542.40" width="5.6" height="5.6" rx=".9" fill="#d9dadd"/><rect x="577.30" y="543.10" width="4.20" height="4.00" rx=".6" fill="#f1f1f3"/>
<rect x="585.20" y="542.40" width="5.6" height="5.6" rx=".9" fill="#d9dadd"/><rect x="585.90" y="543.10" width="4.20" height="4.00" rx=".6" fill="#f1f1f3"/>
<rect x="593.80" y="542.40" width="5.6" height="5.6" rx=".9" fill="#d9dadd"/><rect x="594.50" y="543.10" width="4.20" height="4.00" rx=".6" fill="#f1f1f3"/>
<rect x="513.60" y="551.80" width="6.4" height="6.4" rx=".9" fill="#d9dadd"/><rect x="514.30" y="552.50" width="5.00" height="4.80" rx=".6" fill="#f1f1f3"/>
<rect x="520.95" y="551.80" width="6.4" height="6.4" rx=".9" fill="#d9dadd"/><rect x="521.65" y="552.50" width="5.00" height="4.80" rx=".6" fill="#f1f1f3"/>
<rect x="528.30" y="551.80" width="6.4" height="6.4" rx=".9" fill="#d9dadd"/><rect x="529.00" y="552.50" width="5.00" height="4.80" rx=".6" fill="#f1f1f3"/>
<rect x="535.65" y="551.80" width="6.4" height="6.4" rx=".9" fill="#d9dadd"/><rect x="536.35" y="552.50" width="5.00" height="4.80" rx=".6" fill="#f1f1f3"/>
<rect x="543.00" y="551.80" width="6.4" height="6.4" rx=".9" fill="#d9dadd"/><rect x="543.70" y="552.50" width="5.00" height="4.80" rx=".6" fill="#f1f1f3"/>
<rect x="550.35" y="551.80" width="6.4" height="6.4" rx=".9" fill="#d9dadd"/><rect x="551.05" y="552.50" width="5.00" height="4.80" rx=".6" fill="#f1f1f3"/>
<rect x="557.70" y="551.80" width="6.4" height="6.4" rx=".9" fill="#d9dadd"/><rect x="558.40" y="552.50" width="5.00" height="4.80" rx=".6" fill="#f1f1f3"/>
<rect x="565.05" y="551.80" width="6.4" height="6.4" rx=".9" fill="#d9dadd"/><rect x="565.75" y="552.50" width="5.00" height="4.80" rx=".6" fill="#f1f1f3"/>
<rect x="572.40" y="551.80" width="6.4" height="6.4" rx=".9" fill="#d9dadd"/><rect x="573.10" y="552.50" width="5.00" height="4.80" rx=".6" fill="#f1f1f3"/>
<rect x="579.75" y="551.80" width="6.4" height="6.4" rx=".9" fill="#d9dadd"/><rect x="580.45" y="552.50" width="5.00" height="4.80" rx=".6" fill="#f1f1f3"/>
<rect x="587.10" y="551.80" width="6.4" height="6.4" rx=".9" fill="#d9dadd"/><rect x="587.80" y="552.50" width="5.00" height="4.80" rx=".6" fill="#f1f1f3"/>
<rect x="594.45" y="551.80" width="6.4" height="6.4" rx=".9" fill="#d9dadd"/><rect x="595.15" y="552.50" width="5.00" height="4.80" rx=".6" fill="#f1f1f3"/>
<rect x="605.20" y="552.00" width="6.2" height="6.2" rx=".9" fill="#d9dadd"/><rect x="605.90" y="552.70" width="4.80" height="4.60" rx=".6" fill="#f1f1f3"/>
<rect x="511.80" y="561.60" width="6.7" height="7" rx=".9" fill="#d9dadd"/><rect x="512.50" y="562.30" width="5.30" height="5.40" rx=".6" fill="#f1f1f3"/>
<rect x="519.35" y="561.60" width="6.7" height="7" rx=".9" fill="#d9dadd"/><rect x="520.05" y="562.30" width="5.30" height="5.40" rx=".6" fill="#f1f1f3"/>
<rect x="526.90" y="561.60" width="6.7" height="7" rx=".9" fill="#d9dadd"/><rect x="527.60" y="562.30" width="5.30" height="5.40" rx=".6" fill="#f1f1f3"/>
<rect x="534.45" y="561.60" width="6.7" height="7" rx=".9" fill="#d9dadd"/><rect x="535.15" y="562.30" width="5.30" height="5.40" rx=".6" fill="#f1f1f3"/>
<rect x="542.00" y="561.60" width="6.7" height="7" rx=".9" fill="#d9dadd"/><rect x="542.70" y="562.30" width="5.30" height="5.40" rx=".6" fill="#f1f1f3"/>
<rect x="549.55" y="561.60" width="6.7" height="7" rx=".9" fill="#d9dadd"/><rect x="550.25" y="562.30" width="5.30" height="5.40" rx=".6" fill="#f1f1f3"/>
<rect x="557.10" y="561.60" width="6.7" height="7" rx=".9" fill="#d9dadd"/><rect x="557.80" y="562.30" width="5.30" height="5.40" rx=".6" fill="#f1f1f3"/>
<rect x="564.65" y="561.60" width="6.7" height="7" rx=".9" fill="#d9dadd"/><rect x="565.35" y="562.30" width="5.30" height="5.40" rx=".6" fill="#f1f1f3"/>
<rect x="572.20" y="561.60" width="6.7" height="7" rx=".9" fill="#d9dadd"/><rect x="572.90" y="562.30" width="5.30" height="5.40" rx=".6" fill="#f1f1f3"/>
<rect x="579.75" y="561.60" width="6.7" height="7" rx=".9" fill="#d9dadd"/><rect x="580.45" y="562.30" width="5.30" height="5.40" rx=".6" fill="#f1f1f3"/>
<rect x="587.30" y="561.60" width="6.7" height="7" rx=".9" fill="#d9dadd"/><rect x="588.00" y="562.30" width="5.30" height="5.40" rx=".6" fill="#f1f1f3"/>
<rect x="594.85" y="561.60" width="6.7" height="7" rx=".9" fill="#d9dadd"/><rect x="595.55" y="562.30" width="5.30" height="5.40" rx=".6" fill="#f1f1f3"/>
<rect x="606.00" y="561.80" width="6.6" height="6.8" rx=".9" fill="#d9dadd"/><rect x="606.70" y="562.50" width="5.20" height="5.20" rx=".6" fill="#f1f1f3"/>
<path d="M614.6 546.6H620.6L621.2 568H615.4z" fill="#0d0e10"/>
<path d="M623 547.6H641.6L643.8 567Q643.9 568.2 642.6 568.2H626.2Q625 568.2 624.8 567z" fill="#111215"/>
<path d="M632.6 549V564" stroke="#2e3036" stroke-width="1.2"/>
<rect x="620.6" y="541" width="10.6" height="5.8" rx=".8" fill="url(#silv)"/><rect x="631.8" y="541" width="10.6" height="5.8" rx=".8" fill="url(#silv)"/>
</g>
<g id="laptop">
<path d="M515.8 642Q515.8 638.6 519.2 638.6H640.8Q644.2 638.6 644.2 642V725.6H515.8z" fill="#0e0e10"/>
<use href="#scene3" x="518.2" y="644.4" width="123.6" height="76.8"/>
<rect x="574" y="722.6" width="12" height="1.2" fill="#6f7178" opacity=".8"/>
<path d="M515.8 725.4H644.2L656.8 733.2Q657 735.2 654.6 735.3H505.4Q503 735.2 503.2 733.2z" fill="url(#lapg)"/>
<path d="M503.2 733.2H656.8Q657 735.2 654.6 735.3H505.4Q503 735.2 503.2 733.2z" fill="#50525b"/>
<path d="M566 733.2H594V734.2Q580 735 566 734.2z" fill="#b4b6be"/>
</g>
<g id="netsw">
<path d="M308.2 699.7L357.6 713.7L376.2 700.6L374 702.8L357.8 715.2L309 701.4z" fill="#c8c8c8" opacity=".7"/>
<path d="M308.2 690.4L328.5 680.8L376.2 690.1L357.6 704.3z" fill="#2a2b2e"/>
<path d="M308.2 690.4L357.6 704.3V713.7L308.2 699.7z" fill="#111214"/>
<path d="M357.6 704.3L376.2 690.1V700.6L357.6 713.7z" fill="#1c1d20"/>
<path d="M314.60 693.50L318.80 694.70V699.80L314.60 698.60z" fill="#c9ccd0"/>
<path d="M315.40 696.10L318.00 696.80V699.00L315.40 698.30z" fill="#1b1c1f"/>
<path d="M319.70 694.93L323.90 696.13V701.23L319.70 700.03z" fill="#c9ccd0"/>
<path d="M320.50 697.53L323.10 698.23V700.43L320.50 699.73z" fill="#1b1c1f"/>
<path d="M324.80 696.36L329.00 697.56V702.66L324.80 701.46z" fill="#c9ccd0"/>
<path d="M325.60 698.96L328.20 699.66V701.86L325.60 701.16z" fill="#1b1c1f"/>
<path d="M329.90 697.79L334.10 698.99V704.09L329.90 702.89z" fill="#c9ccd0"/>
<path d="M330.70 700.39L333.30 701.09V703.29L330.70 702.59z" fill="#1b1c1f"/>
<path d="M335.00 699.22L339.20 700.42V705.52L335.00 704.32z" fill="#c9ccd0"/>
<path d="M335.80 701.82L338.40 702.52V704.72L335.80 704.02z" fill="#1b1c1f"/>
<path d="M340.10 700.65L344.30 701.85V706.95L340.10 705.75z" fill="#c9ccd0"/>
<path d="M340.90 703.25L343.50 703.95V706.15L340.90 705.45z" fill="#1b1c1f"/>
<path d="M345.20 702.08L349.40 703.28V708.38L345.20 707.18z" fill="#c9ccd0"/>
<path d="M346.00 704.68L348.60 705.38V707.58L346.00 706.88z" fill="#1b1c1f"/>
<path d="M350.30 703.51L354.50 704.71V709.81L350.30 708.61z" fill="#c9ccd0"/>
<path d="M351.10 706.11L353.70 706.81V709.01L351.10 708.31z" fill="#1b1c1f"/>
<path d="M310.6 694.4L311.8 694.7V699.6L310.6 699.3z" fill="#3b3c40"/>
<path d="M361.2 689.3L365 686.9L375 688.9L371.4 691.6z" fill="#f0e6d8"/>
<path d="M362.8 688.3L365.4 686.9L375 688.9L372.8 690.4z" fill="#e2453c"/>
<path d="M362.2 690L364 688.9L372.6 690.7L371.4 691.6z" fill="#f4d35a"/>
</g>
<g id="globe" fill="none" stroke="#f3f7fb" stroke-width="1.25">
<circle cx="347" cy="777.6" r="8.8" fill="#1a93e2" stroke="none"/>
<path d="M338.2 777.6H355.8M339.6 772.6H354.4M339.6 782.6H354.4M347 768.8V786.4M342.6 769.8Q340.2 777.6 342.6 785.4M351.4 769.8Q353.8 777.6 351.4 785.4"/>
<path d="M352.6 768.6A4 4 0 0 1 355.8 771.8M352.8 766.8A5.8 5.8 0 0 1 357.6 771.4M353 765A7.6 7.6 0 0 1 359.4 771" stroke="#3aa3e8" stroke-width=".8"/>
</g>
</svg>
</div>
</body>
</html>
